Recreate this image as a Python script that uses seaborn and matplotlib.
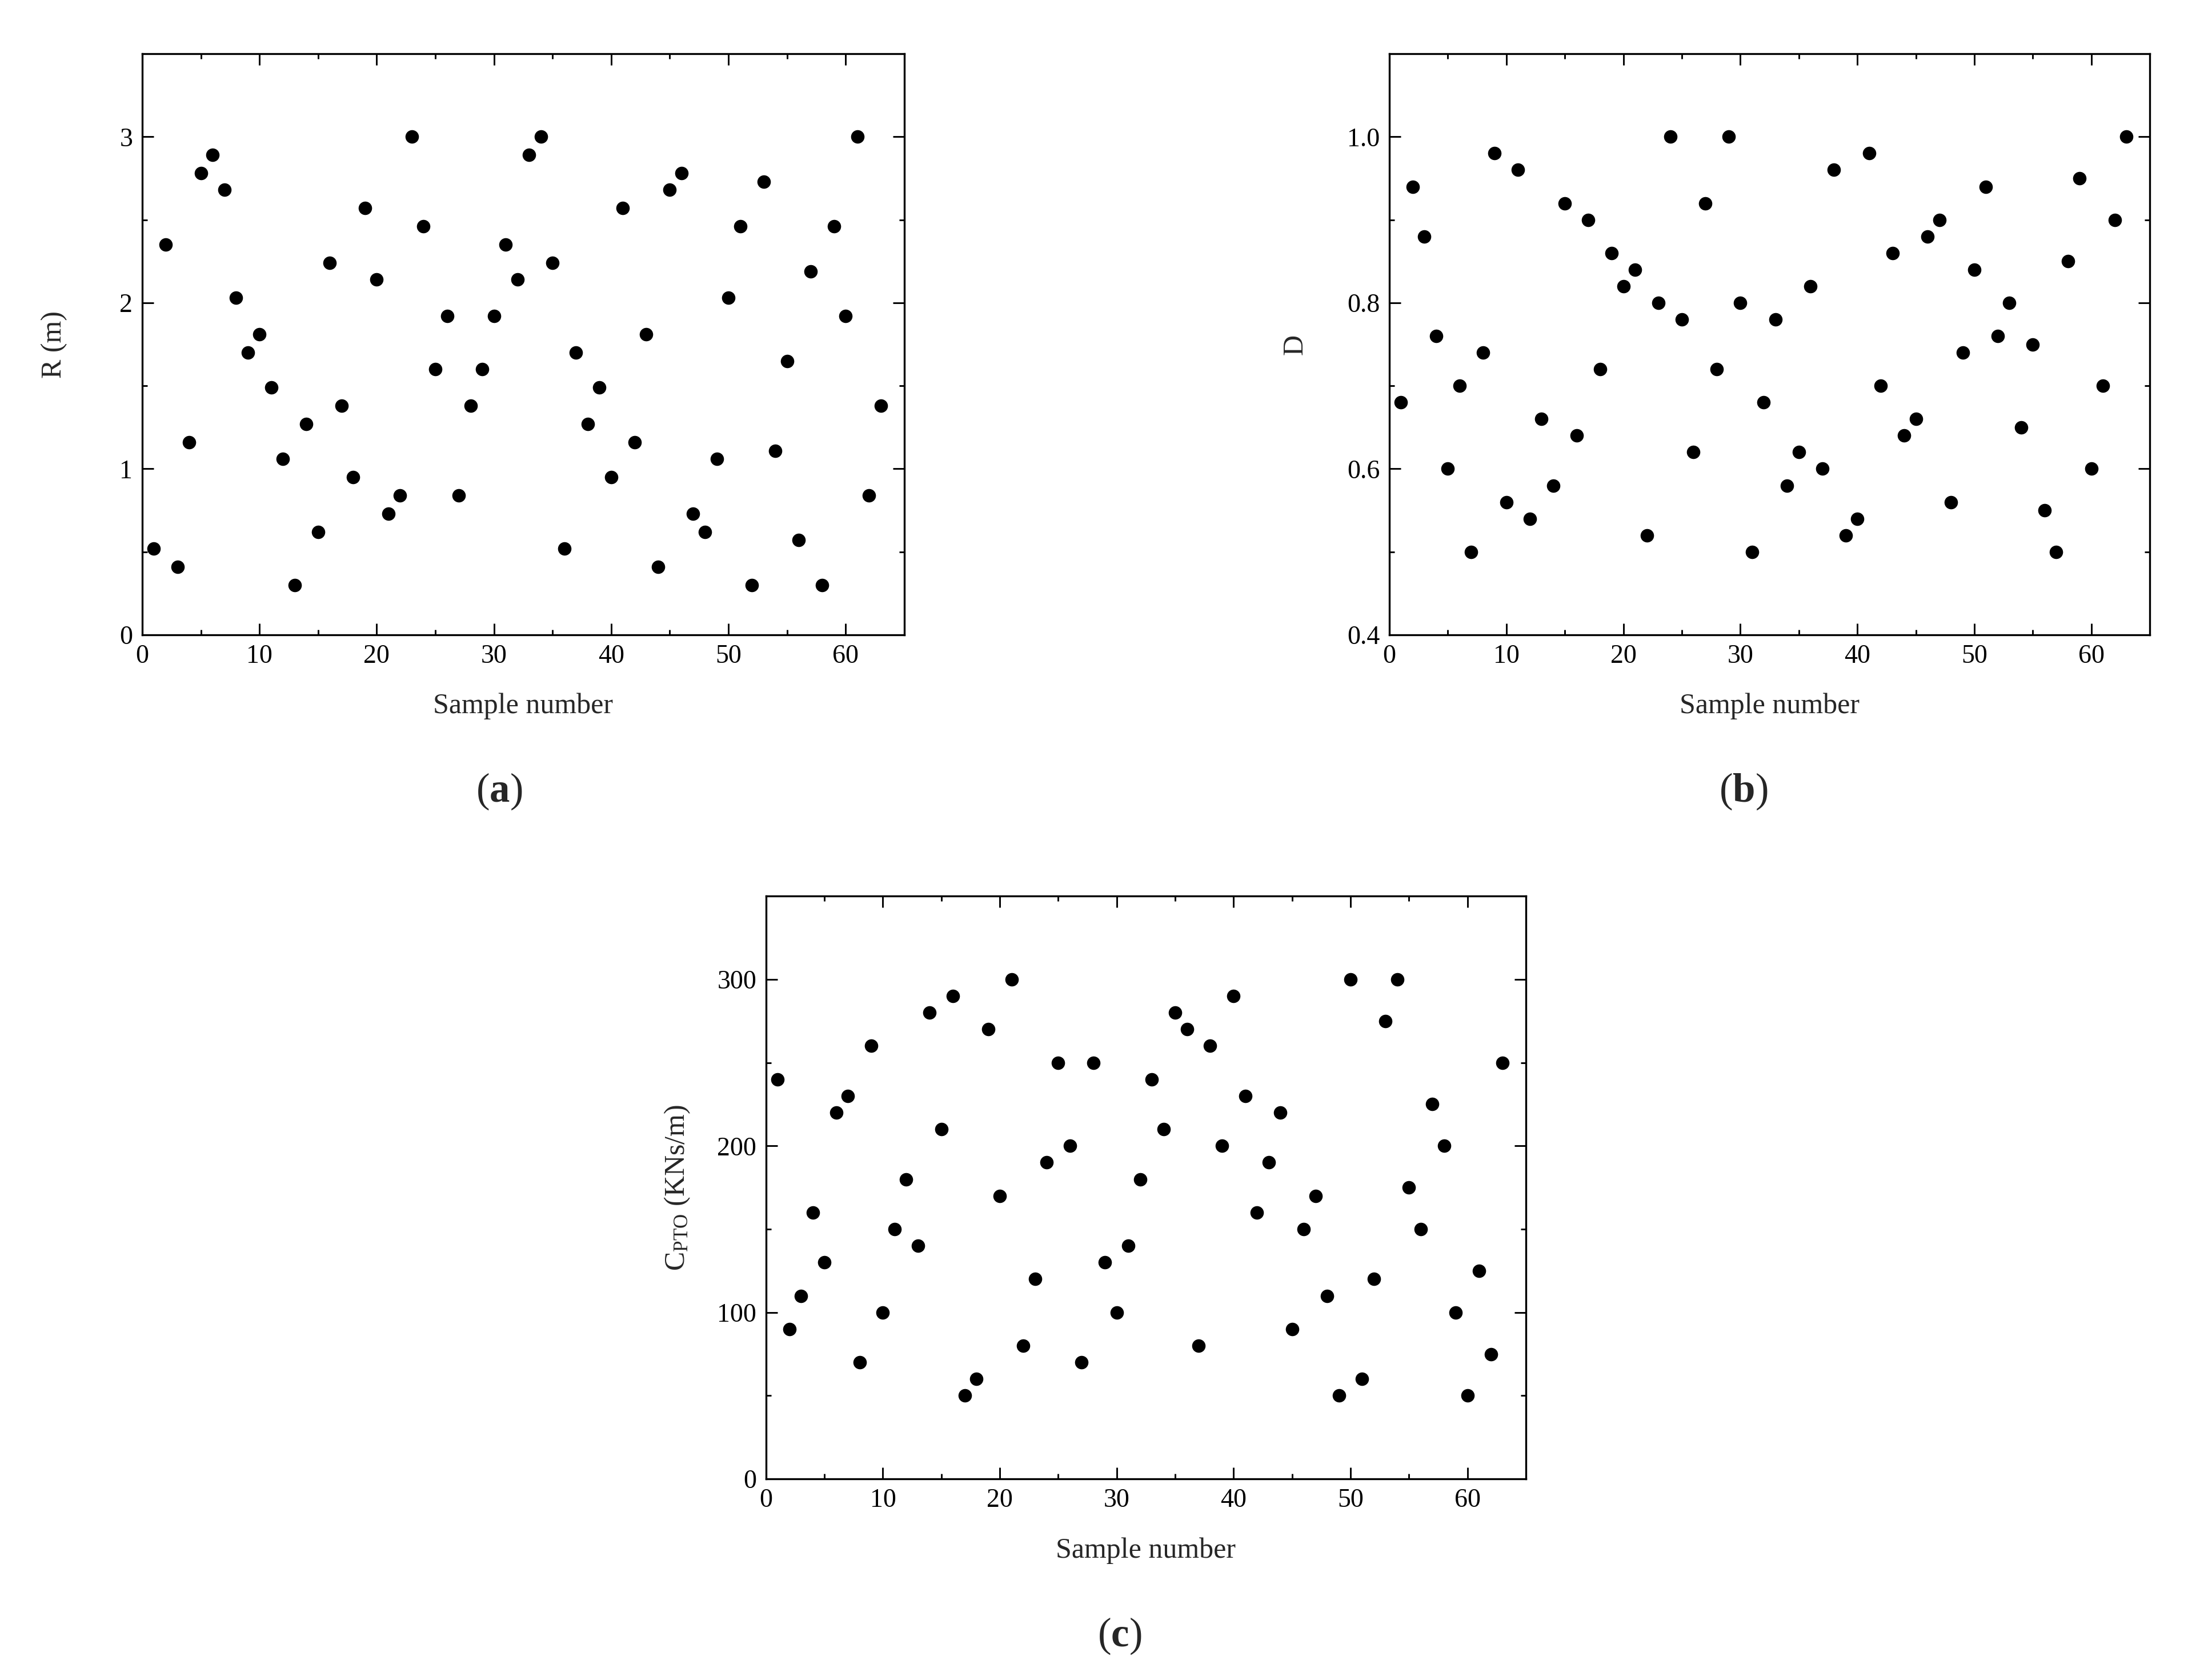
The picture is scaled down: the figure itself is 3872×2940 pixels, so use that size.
import matplotlib
matplotlib.use("Agg")
import matplotlib.pyplot as plt
from matplotlib.ticker import MultipleLocator
import seaborn as sns
import pandas as pd

# sample index
sample_no = list(range(1, 64))

# (a) radius R (m)
radius = [0.52, 2.35, 0.41, 1.16, 2.78, 2.89, 2.68, 2.03, 1.70, 1.81,
          1.49, 1.06, 0.30, 1.27, 0.62, 2.24, 1.38, 0.95, 2.57, 2.14,
          0.73, 0.84, 3.00, 2.46, 1.60, 1.92, 0.84, 1.38, 1.60, 1.92,
          2.35, 2.14, 2.89, 3.00, 2.24, 0.52, 1.70, 1.27, 1.49, 0.95,
          2.57, 1.16, 1.81, 0.41, 2.68, 2.78, 0.73, 0.62, 1.06, 2.03,
          2.46, 0.30, 2.73, 1.11, 1.65, 0.57, 2.19, 0.30, 2.46, 1.92,
          3.00, 0.84, 1.38]

# (b) D
draft = [0.68, 0.94, 0.88, 0.76, 0.60, 0.70, 0.50, 0.74, 0.98, 0.56,
         0.96, 0.54, 0.66, 0.58, 0.92, 0.64, 0.90, 0.72, 0.86, 0.82,
         0.84, 0.52, 0.80, 1.00, 0.78, 0.62, 0.92, 0.72, 1.00, 0.80,
         0.50, 0.68, 0.78, 0.58, 0.62, 0.82, 0.60, 0.96, 0.52, 0.54,
         0.98, 0.70, 0.86, 0.64, 0.66, 0.88, 0.90, 0.56, 0.74, 0.84,
         0.94, 0.76, 0.80, 0.65, 0.75, 0.55, 0.50, 0.85, 0.95, 0.60,
         0.70, 0.90, 1.00]

# (c) C_PTO (KNs/m)
c_pto = [240, 90, 110, 160, 130, 220, 230, 70, 260, 100,
         150, 180, 140, 280, 210, 290, 50, 60, 270, 170,
         300, 80, 120, 190, 250, 200, 70, 250, 130, 100,
         140, 180, 240, 210, 280, 270, 80, 260, 200, 290,
         230, 160, 190, 220, 90, 150, 170, 110, 50, 300,
         60, 120, 275, 300, 175, 150, 225, 200, 100, 50,
         125, 75, 250]

df = pd.DataFrame({"n": sample_no, "R": radius, "D": draft, "C": c_pto})

sns.set_style("ticks")
plt.rcParams["font.family"] = ["Liberation Serif", "DejaVu Serif"]
plt.rcParams["mathtext.fontset"] = "custom"
plt.rcParams["mathtext.rm"] = "Liberation Serif"
plt.rcParams["mathtext.it"] = "Liberation Serif:italic"
plt.rcParams["mathtext.bf"] = "Liberation Serif:bold"

fig = plt.figure(figsize=(3872 / 300, 2940 / 300), dpi=300)

panels = [
    # col, ylabel, ylim, major, minor, axes rect, ylabel x, panel tag, tag pos
    ("R", "R (m)", (0, 3.5), 1, 0.5, [0.0643, 0.6221, 0.3445, 0.3459], -0.098,
     "a", (0.2257, 0.529)),
    ("D", "D", (0.4, 1.1), 0.2, 0.1, [0.6281, 0.6221, 0.3438, 0.3459], -0.106,
     "b", (0.7882, 0.529)),
    ("C", r"C$_{\mathrm{PTO}}$ (KNs/m)", (0, 350), 100, 50,
     [0.3463, 0.1197, 0.3435, 0.3469], -0.098, "c", (0.5062, 0.026)),
]

for col, ylab, ylim, major, minor, rect, ylx, tag, tagpos in panels:
    ax = fig.add_axes(rect)
    sns.scatterplot(data=df, x="n", y=col, ax=ax, color="black", s=32,
                    linewidth=0, legend=False)
    ax.set_xlim(0, 65)
    ax.set_ylim(*ylim)
    ax.xaxis.set_major_locator(MultipleLocator(10))
    ax.xaxis.set_minor_locator(MultipleLocator(5))
    ax.yaxis.set_major_locator(MultipleLocator(major))
    ax.yaxis.set_minor_locator(MultipleLocator(minor))
    if col == "D":
        ax.yaxis.set_major_formatter(plt.FormatStrFormatter("%.1f"))
    ax.tick_params(which="both", direction="in", top=True, right=True,
                   width=0.7, colors="black", labelsize=11)
    ax.tick_params(which="major", length=4.8, pad=4)
    ax.tick_params(which="minor", length=2.2)
    for sp in ax.spines.values():
        sp.set_linewidth(0.8)
        sp.set_color("black")
    ax.set_xlabel("Sample number", fontsize=12)
    ax.set_ylabel(ylab, fontsize=12)
    ax.xaxis.set_label_coords(0.5, -0.10)
    ax.yaxis.set_label_coords(ylx, 0.5)
    fig.text(tagpos[0], tagpos[1], r"($\mathbf{%s}$)" % tag, fontsize=17,
             ha="center", va="center")

fig.savefig("out.png", dpi=300, facecolor="white")
